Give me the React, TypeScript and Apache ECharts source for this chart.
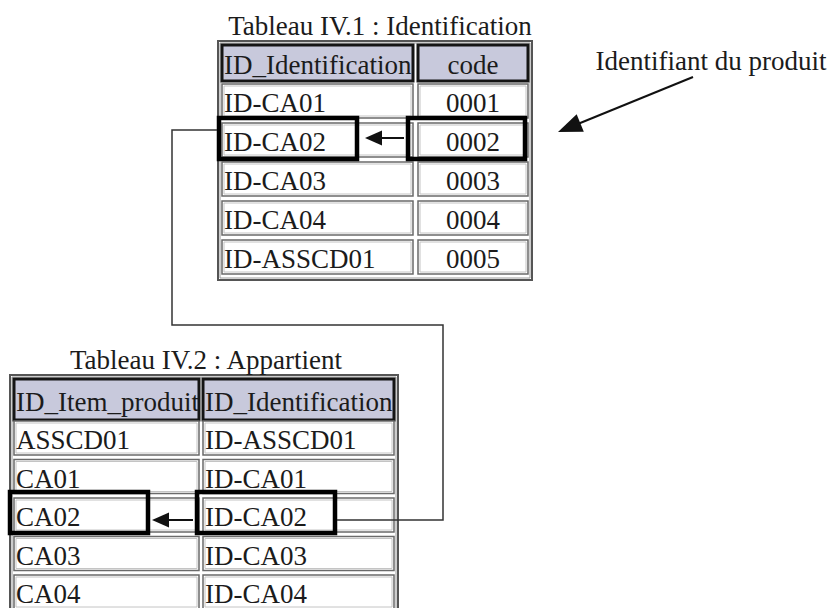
import React, { useEffect, useRef } from "react";
import * as echarts from "echarts";

// ---- data ----
const table1Title = "Tableau IV.1 : Identification";
const table1Headers = ["ID_Identification", "code"];
const table1Ids = ["ID-CA01", "ID-CA02", "ID-CA03", "ID-CA04", "ID-ASSCD01"];
const table1Codes = ["0001", "0002", "0003", "0004", "0005"];

const table2Title = "Tableau IV.2 : Appartient";
const table2Headers = ["ID_Item_produit", "ID_Identification"];
const table2Items = ["ASSCD01", "CA01", "CA02", "CA03", "CA04"];
const table2Ids = ["ID-ASSCD01", "ID-CA01", "ID-CA02", "ID-CA03", "ID-CA04"];

const annotation = "Identifiant du produit";
const highlightRow1 = 1; // ID-CA02 / 0002
const highlightRow2 = 2; // CA02 / ID-CA02

const FONT = "'Liberation Serif', 'DejaVu Serif', serif";
const TEXT_COLOR = "#1b1b1b";
const FS = 27;

type Layout = {
  outer: [number, number, number, number];
  cols: [number, number][];
  headerY: number;
  headerH: number;
  rowTop: number;
  rowPitch: number;
  rowH: number;
  aligns: ("left" | "center")[];
};

function buildTable(layout: Layout, headers: string[], columns: string[][]) {
  const els: any[] = [];
  const [ox, oy, ow, oh] = layout.outer;
  els.push({
    type: "rect",
    shape: { x: ox, y: oy, width: ow, height: oh },
    style: { fill: "#fff", stroke: "#555", lineWidth: 2 },
    z: 1,
  });
  els.push({
    type: "rect",
    shape: { x: ox + 2, y: oy + 2, width: ow - 4, height: oh - 4 },
    style: { fill: "none", stroke: "#9a9a9a", lineWidth: 1 },
    z: 1,
  });
  const cellText = (txt: string, ci: number, y: number, h: number) => {
    const [cx, cw] = layout.cols[ci];
    const align = layout.aligns[ci];
    return {
      type: "text",
      x: align === "center" ? cx + cw / 2 : cx + 2,
      y: y + h / 2 + 2,
      style: {
        text: txt,
        font: `${FS}px ${FONT}`,
        fill: TEXT_COLOR,
        textAlign: align,
        textVerticalAlign: "middle",
      },
      z: 4,
    };
  };
  headers.forEach((hd, ci) => {
    const [cx, cw] = layout.cols[ci];
    els.push({
      type: "rect",
      shape: { x: cx, y: layout.headerY, width: cw, height: layout.headerH },
      style: { fill: "#c8c9dc", stroke: "#151515", lineWidth: 3 },
      z: 2,
    });
    els.push(cellText(hd, ci, layout.headerY, layout.headerH));
  });
  const nRows = columns[0].length;
  for (let r = 0; r < nRows; r++) {
    const y = layout.rowTop + r * layout.rowPitch;
    columns.forEach((col, ci) => {
      const [cx, cw] = layout.cols[ci];
      els.push({
        type: "rect",
        shape: { x: cx, y, width: cw, height: layout.rowH },
        style: { fill: "#fff", stroke: "#6a6a6a", lineWidth: 1.5 },
        z: 2,
      });
      els.push({
        type: "rect",
        shape: { x: cx + 2, y: y + 2, width: cw - 4, height: layout.rowH - 4 },
        style: { fill: "none", stroke: "#c4c4c4", lineWidth: 1 },
        z: 2,
      });
      els.push(cellText(col[r], ci, y, layout.rowH));
    });
  }
  return els;
}

function arrow(x1: number, y1: number, tx: number, ty: number, headLen: number, headHalf: number, lw: number) {
  const dx = tx - x1;
  const dy = ty - y1;
  const len = Math.sqrt(dx * dx + dy * dy);
  const ux = dx / len;
  const uy = dy / len;
  const bx = tx - ux * headLen;
  const by = ty - uy * headLen;
  const px = -uy * headHalf;
  const py = ux * headHalf;
  return [
    {
      type: "line",
      shape: { x1, y1, x2: bx + ux * 2, y2: by + uy * 2 },
      style: { stroke: "#111", lineWidth: lw },
      z: 6,
    },
    {
      type: "polygon",
      shape: { points: [[tx, ty], [bx + px, by + py], [bx - px, by - py]] },
      style: { fill: "#111" },
      z: 6,
    },
  ];
}

const layout1: Layout = {
  outer: [218, 41, 314, 239],
  cols: [
    [222, 191],
    [418, 110],
  ],
  headerY: 45,
  headerH: 36,
  rowTop: 84,
  rowPitch: 39,
  rowH: 34,
  aligns: ["left", "center"],
};

const layout2: Layout = {
  outer: [10, 375, 388, 262],
  cols: [
    [14, 185],
    [203, 191],
  ],
  headerY: 379,
  headerH: 41,
  rowTop: 421,
  rowPitch: 38.5,
  rowH: 34,
  aligns: ["left", "left"],
};

export default function App() {
  const ref = useRef<HTMLDivElement>(null);
  useEffect(() => {
    if (!ref.current) return;
    const chart = echarts.init(ref.current, null, { renderer: "svg" });
    const els: any[] = [];
    els.push({
      type: "text",
      x: 380,
      y: 26,
      style: { text: table1Title, font: `${FS}px ${FONT}`, fill: TEXT_COLOR, textAlign: "center", textVerticalAlign: "middle" },
      z: 4,
    });
    els.push({
      type: "text",
      x: 206,
      y: 360,
      style: { text: table2Title, font: `${FS}px ${FONT}`, fill: TEXT_COLOR, textAlign: "center", textVerticalAlign: "middle" },
      z: 4,
    });
    els.push(...buildTable(layout1, table1Headers, [table1Ids, table1Codes]));
    els.push(...buildTable(layout2, table2Headers, [table2Items, table2Ids]));

    // highlight boxes
    const hy1 = layout1.rowTop + highlightRow1 * layout1.rowPitch - 5;
    const hy2 = layout2.rowTop + highlightRow2 * layout2.rowPitch - 6;
    const boxes = [
      [219, hy1, 138, 41],
      [408, hy1, 117, 41],
      [10, hy2, 138, 41],
      [197, hy2, 138, 41],
    ];
    boxes.forEach(([x, y, w, h]) =>
      els.push({
        type: "rect",
        shape: { x, y, width: w, height: h },
        style: { fill: "none", stroke: "#000", lineWidth: 4.5 },
        z: 5,
      })
    );

    // connector
    const cy1 = hy1 + 12;
    const cy2 = hy2 + 28;
    els.push({
      type: "polyline",
      shape: {
        points: [
          [217, cy1],
          [172, cy1],
          [172, 325],
          [443, 325],
          [443, cy2],
          [337, cy2],
        ],
      },
      style: { stroke: "#333", lineWidth: 1.5, fill: "none" },
      z: 6,
    });

    // small arrows
    els.push(...arrow(404, hy1 + 20, 365, hy1 + 20, 17, 7.5, 2));
    els.push(...arrow(193, hy2 + 28, 152, hy2 + 28, 17, 7.5, 2));

    // annotation
    els.push({
      type: "text",
      x: 711,
      y: 61,
      style: { text: annotation, font: `${FS}px ${FONT}`, fill: TEXT_COLOR, textAlign: "center", textVerticalAlign: "middle" },
      z: 4,
    });
    els.push(...arrow(693, 77, 558, 132, 24, 9.5, 2));

    chart.setOption({ animation: false, graphic: { elements: els } });
    return () => chart.dispose();
  }, []);
  return (
    <div
      ref={ref}
      style={{ position: "fixed", left: 0, top: 0, width: 829, height: 608, background: "#fff" }}
    />
  );
}
